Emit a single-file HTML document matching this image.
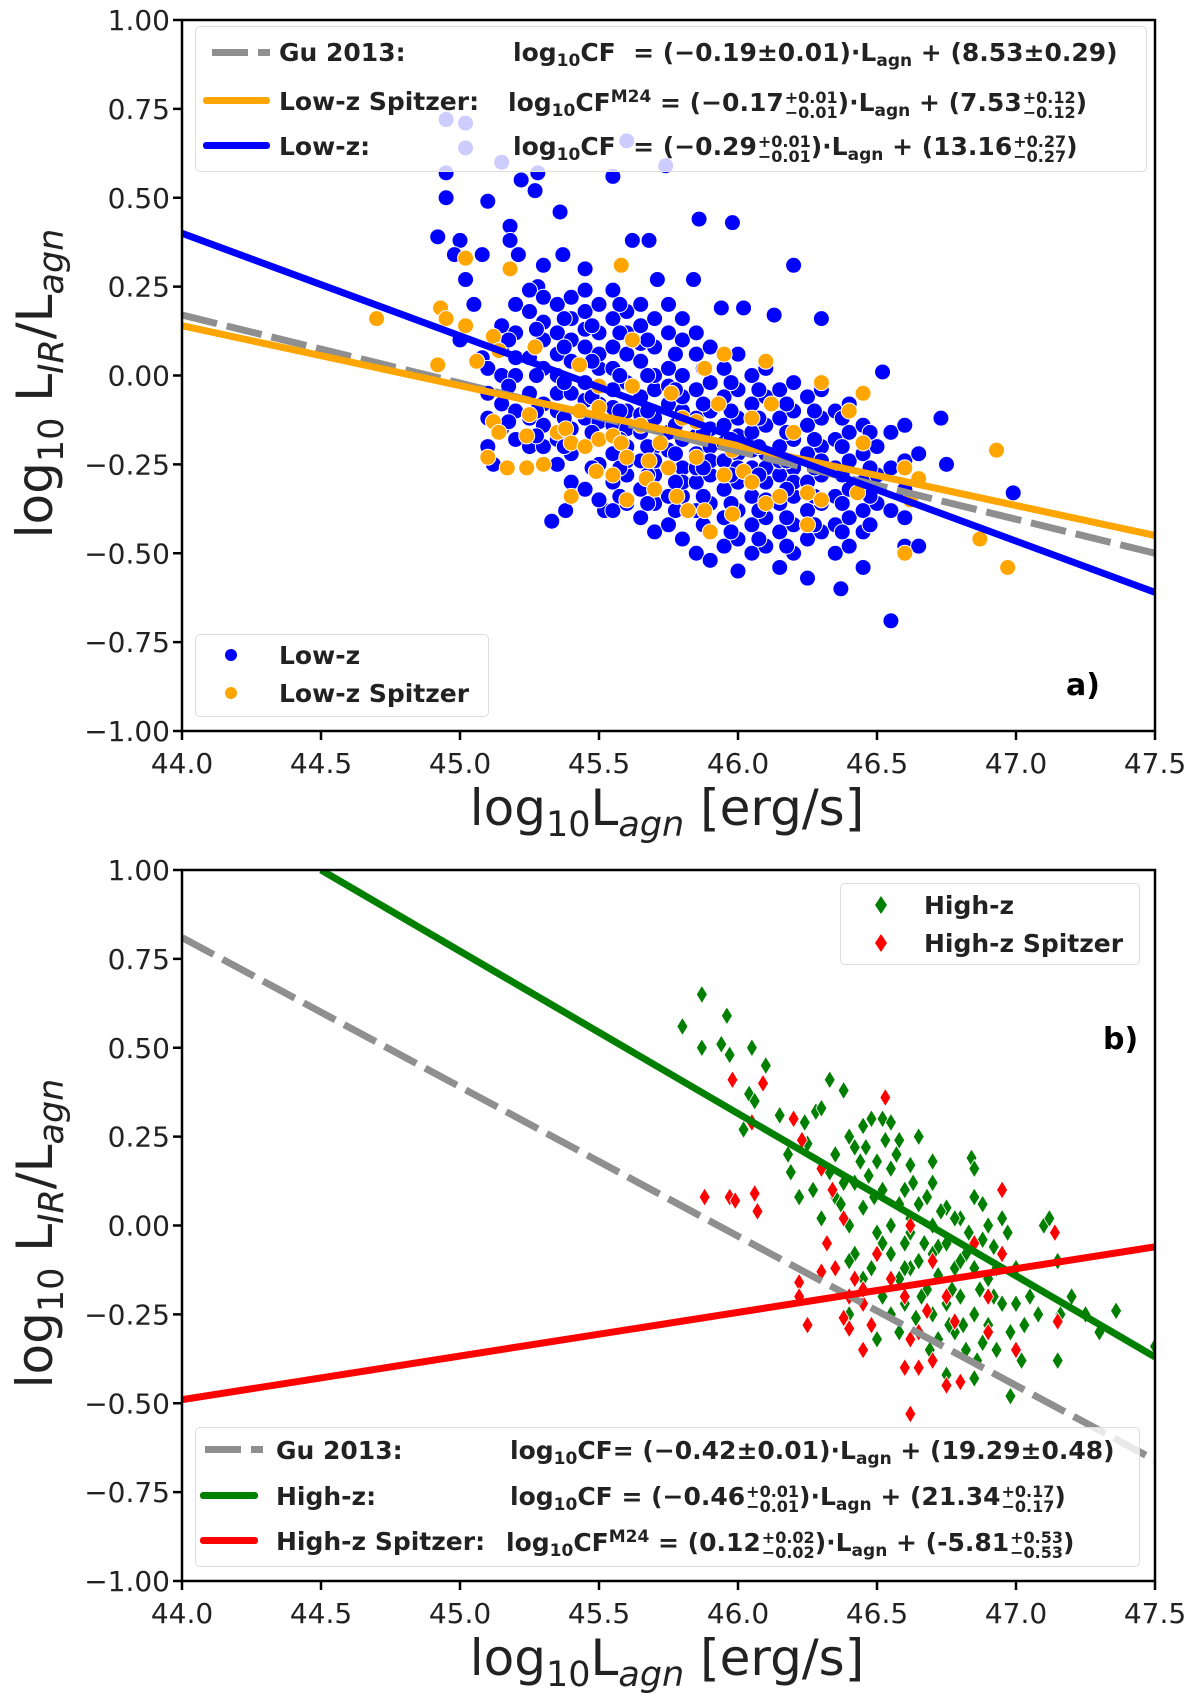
<!DOCTYPE html>
<html><head><meta charset="utf-8">
<style>
body{margin:0;background:#fff;}
#wrap{position:relative;width:1200px;height:1696px;overflow:hidden;font-family:"DejaVu Sans","Liberation Sans",sans-serif;}
svg{position:absolute;left:0;top:0;}
.leg{position:absolute;background:rgba(255,255,255,0.8);border:1.5px solid #ddd;border-radius:5px;box-sizing:border-box;}
.row{position:absolute;font-weight:bold;font-size:25px;color:#222;white-space:nowrap;line-height:1;}
.row sub{font-size:17px;vertical-align:-5px;}
.row sup{font-size:17px;vertical-align:9px;}
.st{display:inline-block;font-size:16px;line-height:15px;vertical-align:-7px;margin-left:1px;}
.st span{display:block;}
.hl{position:absolute;height:7px;}
.tag{position:absolute;font-weight:bold;font-size:30px;color:#000;}
</style></head><body>
<div id="wrap">
<svg id="svg" width="1200" height="1696"></svg>

<div class="leg" style="left:195px;top:26px;width:952px;height:146px;"></div>
<div class="hl" style="left:212px;top:49px;width:58px;background:repeating-linear-gradient(90deg,#8f8f8f 0 36px,transparent 36px 46px,#8f8f8f 46px 58px);"></div>
<div class="row" style="left:279px;top:40px;">Gu 2013:</div>
<div class="row" style="left:513px;top:40px;">log<sub>10</sub>CF&nbsp; = (−0.19±0.01)·L<sub>agn</sub> + (8.53±0.29)</div>
<div class="hl" style="left:203px;top:97px;width:67px;background:#ffa500;border-radius:3px;"></div>
<div class="row" style="left:279px;top:89px;">Low-z Spitzer:</div>
<div class="row" style="left:508px;top:89px;">log<sub>10</sub>CF<sup>M24</sup> = (−0.17<span class="st"><span>+0.01</span><span>−0.01</span></span>)·L<sub>agn</sub> + (7.53<span class="st"><span>+0.12</span><span>−0.12</span></span>)</div>
<div class="hl" style="left:203px;top:142px;width:67px;background:#0000ff;border-radius:3px;"></div>
<div class="row" style="left:279px;top:134px;">Low-z:</div>
<div class="row" style="left:513px;top:134px;">log<sub>10</sub>CF&nbsp; = (−0.29<span class="st"><span>+0.01</span><span>−0.01</span></span>)·L<sub>agn</sub> + (13.16<span class="st"><span>+0.27</span><span>−0.27</span></span>)</div>

<div class="leg" style="left:195px;top:634px;width:294px;height:83px;"></div>
<div style="position:absolute;left:225px;top:649px;width:12px;height:12px;border-radius:50%;background:#0000ff;"></div>
<div class="row" style="left:279px;top:643px;">Low-z</div>
<div style="position:absolute;left:225px;top:687px;width:12px;height:12px;border-radius:50%;background:#ffa500;"></div>
<div class="row" style="left:279px;top:681px;">Low-z Spitzer</div>
<div class="tag" style="left:1066px;top:668px;">a)</div>

<div class="leg" style="left:840px;top:883px;width:300px;height:82px;"></div>
<div style="position:absolute;left:875px;top:896px;width:12px;height:18px;background:#007f00;clip-path:polygon(50% 0,100% 50%,50% 100%,0 50%);"></div>
<div class="row" style="left:924px;top:893px;">High-z</div>
<div style="position:absolute;left:875px;top:934px;width:12px;height:18px;background:#ff0000;clip-path:polygon(50% 0,100% 50%,50% 100%,0 50%);"></div>
<div class="row" style="left:924px;top:931px;">High-z Spitzer</div>
<div class="tag" style="left:1103px;top:1022px;">b)</div>

<div class="leg" style="left:195px;top:1427px;width:945px;height:140px;"></div>
<div class="hl" style="left:205px;top:1446px;width:58px;background:repeating-linear-gradient(90deg,#8f8f8f 0 36px,transparent 36px 46px,#8f8f8f 46px 58px);"></div>
<div class="row" style="left:276px;top:1438px;">Gu 2013:</div>
<div class="row" style="left:510px;top:1438px;">log<sub>10</sub>CF= (−0.42±0.01)·L<sub>agn</sub> + (19.29±0.48)</div>
<div class="hl" style="left:200px;top:1492px;width:58px;background:#007f00;border-radius:3px;"></div>
<div class="row" style="left:276px;top:1484px;">High-z:</div>
<div class="row" style="left:510px;top:1484px;">log<sub>10</sub>CF = (−0.46<span class="st"><span>+0.01</span><span>−0.01</span></span>)·L<sub>agn</sub> + (21.34<span class="st"><span>+0.17</span><span>−0.17</span></span>)</div>
<div class="hl" style="left:200px;top:1537px;width:58px;background:#ff0000;border-radius:3px;"></div>
<div class="row" style="left:276px;top:1529px;">High-z Spitzer:</div>
<div class="row" style="left:506px;top:1529px;">log<sub>10</sub>CF<sup>M24</sup> = (0.12<span class="st"><span>+0.02</span><span>−0.02</span></span>)·L<sub>agn</sub> + (-5.81<span class="st"><span>+0.53</span><span>−0.53</span></span>)</div>
</div>

<script>
const xTicks=[44.0,44.5,45.0,45.5,46.0,46.5,47.0,47.5];
const yTicks=[1.00,0.75,0.50,0.25,0.00,-0.25,-0.50,-0.75,-1.00];
const yTickLabels=["1.00","0.75","0.50","0.25","0.00","−0.25","−0.50","−0.75","−1.00"];
const xTickLabels=["44.0","44.5","45.0","45.5","46.0","46.5","47.0","47.5"];
const lowzOutliers=[[44.95,0.72],[45.02,0.71],[45.02,0.64],[44.95,0.57],[44.95,0.50],[45.1,0.49],[45.15,0.60],[45.22,0.55],[45.27,0.52],[45.28,0.57],[45.55,0.56],[45.6,0.66],[45.74,0.59],[45.36,0.46],[44.92,0.39],[45.0,0.38],[45.18,0.42],[45.18,0.38],[45.08,0.34],[45.21,0.34],[45.3,0.31],[45.37,0.34],[44.98,0.34],[45.02,0.27],[45.62,0.38],[45.68,0.38],[45.86,0.44],[45.98,0.43],[46.2,0.31],[45.71,0.27],[45.84,0.27],[46.3,0.16],[46.13,0.17],[46.02,0.19],[45.94,0.19],[46.52,0.01],[46.73,-0.12],[46.75,-0.25],[46.99,-0.33],[46.55,-0.69],[46.37,-0.6],[46.6,-0.48],[46.45,-0.54],[45.33,-0.41],[45.38,-0.38],[45.52,-0.38],[45.1,-0.2],[45.12,-0.25],[45.05,0.2],[45.0,0.1],[45.08,0.05],[45.28,0.25],[45.45,0.3]];
const lowzBinX=[45.1,45.15,45.2,45.25,45.3,45.35,45.4,45.45,45.5,45.55,45.6,45.65,45.7,45.75,45.8,45.85,45.9,45.95,46.0,46.05,46.1,46.15,46.2,46.25,46.3,46.35,46.4,46.45,46.5,46.55,46.6,46.65];
const lowzBinY=[[-0.05,-0.12,0.02],[0.08,-0.08,-0.15,0.14,0.0],[0.12,0.0,-0.1,-0.18,0.2,0.05],[0.05,-0.05,-0.12,0.18,0.24,-0.2],[0.1,0.02,-0.08,-0.2,0.15,-0.14,0.22],[0.2,0.12,0.0,-0.1,-0.25,0.06,-0.05,-0.18],[0.22,0.1,0.04,-0.05,-0.15,-0.3,0.16,-0.22],[0.18,0.08,-0.02,-0.12,-0.2,-0.32,0.24,0.13,-0.07],[0.2,0.12,0.02,-0.08,-0.18,-0.25,-0.35,0.06,-0.13],[0.16,0.08,-0.04,-0.14,-0.22,-0.3,0.24,-0.38,0.02,-0.09],[0.18,0.06,-0.02,-0.1,-0.2,-0.28,-0.36,0.12,-0.15,-0.24],[0.14,0.04,-0.06,-0.16,-0.24,-0.32,-0.4,0.2,0.09,-0.11],[0.16,0.08,-0.04,-0.12,-0.2,-0.28,-0.36,-0.44,0.0,-0.24],[0.12,0.02,-0.08,-0.16,-0.26,-0.34,-0.42,0.2,-0.21,-0.03],[0.1,0.0,-0.1,-0.18,-0.26,-0.34,-0.46,0.16,-0.06,-0.3],[0.06,-0.04,-0.12,-0.22,-0.3,-0.38,-0.5,0.12,-0.17,-0.26],[0.08,-0.02,-0.1,-0.2,-0.28,-0.36,-0.44,-0.52,-0.15,-0.24],[0.02,-0.06,-0.14,-0.24,-0.32,-0.4,-0.48,-0.19,-0.28],[0.06,-0.04,-0.12,-0.22,-0.3,-0.38,-0.46,-0.55,-0.17,-0.26],[0.0,-0.08,-0.16,-0.26,-0.34,-0.42,-0.5,-0.21,-0.3],[0.02,-0.06,-0.14,-0.22,-0.3,-0.4,-0.48,-0.26,-0.35],[-0.04,-0.12,-0.2,-0.28,-0.36,-0.44,-0.54,-0.24],[-0.02,-0.1,-0.18,-0.26,-0.34,-0.42,-0.5,-0.3],[-0.06,-0.14,-0.22,-0.3,-0.38,-0.46,-0.57],[-0.04,-0.12,-0.2,-0.28,-0.36,-0.44,-0.24],[-0.1,-0.18,-0.26,-0.34,-0.42,-0.5],[-0.08,-0.16,-0.24,-0.32,-0.4,-0.48],[-0.14,-0.22,-0.3,-0.38,-0.44],[-0.2,-0.28,-0.36],[-0.16,-0.26,-0.38],[-0.14,-0.24,-0.32,-0.4],[-0.22,-0.48]];
const lowzBin2X=[45.175,45.275,45.375,45.475,45.575,45.675,45.775,45.875,45.975,46.075,46.175,46.275,46.375,46.475];
const lowzBin2Y=[[0.1,-0.03,-0.13],[0.13,0.0,-0.1,-0.17],[0.16,0.08,-0.02,-0.12,-0.2],[0.14,0.04,-0.06,-0.16,-0.26],[0.2,0.12,0.0,-0.1,-0.18,-0.26,-0.34],[0.1,0.0,-0.1,-0.2,-0.28,-0.36],[0.06,-0.04,-0.14,-0.22,-0.3,-0.38],[0.02,-0.08,-0.16,-0.26,-0.34,-0.42],[-0.02,-0.1,-0.18,-0.28,-0.36,-0.44],[-0.04,-0.12,-0.2,-0.28,-0.38,-0.46],[-0.08,-0.16,-0.24,-0.32,-0.4,-0.48],[-0.1,-0.18,-0.26,-0.34,-0.42],[-0.12,-0.2,-0.28,-0.36,-0.44],[-0.16,-0.26,-0.34,-0.42]];
const lowzSpitzer=[[44.7,0.16],[44.93,0.19],[44.95,0.16],[44.92,0.03],[45.02,0.14],[45.06,0.04],[45.02,0.33],[45.18,0.3],[45.12,0.11],[45.14,0.07],[45.12,-0.13],[45.14,-0.16],[45.1,-0.23],[45.17,-0.26],[45.24,-0.17],[45.24,-0.26],[45.3,-0.25],[45.25,-0.11],[45.27,0.08],[45.35,-0.16],[45.38,-0.15],[45.4,-0.19],[45.43,0.03],[45.43,-0.1],[45.45,-0.2],[45.4,-0.34],[45.49,-0.27],[45.5,-0.18],[45.5,-0.09],[45.5,-0.03],[45.55,-0.17],[45.55,-0.28],[45.58,-0.19],[45.6,-0.23],[45.6,-0.35],[45.58,0.31],[45.62,0.1],[45.62,-0.03],[45.65,-0.14],[45.67,-0.29],[45.68,-0.24],[45.7,-0.32],[45.72,-0.19],[45.75,-0.26],[45.76,-0.05],[45.78,-0.34],[45.8,-0.12],[45.82,-0.38],[45.85,-0.13],[45.85,-0.23],[45.9,-0.44],[45.88,-0.38],[45.88,0.02],[45.93,-0.08],[45.95,-0.28],[45.95,0.06],[45.98,-0.21],[45.98,-0.39],[46.02,-0.27],[46.05,-0.12],[46.05,-0.3],[46.1,-0.36],[46.1,0.04],[46.12,-0.08],[46.15,-0.34],[46.2,-0.16],[46.25,-0.42],[46.25,-0.33],[46.3,-0.02],[46.3,-0.35],[46.4,-0.1],[46.43,-0.33],[46.45,-0.05],[46.45,-0.19],[46.6,-0.26],[46.62,-0.35],[46.6,-0.5],[46.65,-0.29],[46.87,-0.46],[46.93,-0.21],[46.97,-0.54]];
const highz=[[45.8,0.56],[45.87,0.65],[45.87,0.5],[45.94,0.51],[45.97,0.48],[45.96,0.59],[46.05,0.5],[46.1,0.45],[46.04,0.37],[46.06,0.35],[46.02,0.27],[46.15,0.31],[46.18,0.2],[46.22,0.08],[46.19,0.15],[46.25,0.23],[46.24,0.29],[46.28,0.32],[46.3,0.33],[46.33,0.41],[46.35,0.2],[46.38,0.38],[46.4,0.25],[46.42,0.22],[46.45,0.28],[46.48,0.3],[46.52,0.3],[46.55,0.29],[46.58,0.24],[46.62,0.17],[46.65,0.25],[46.7,0.18],[46.84,0.19],[46.85,0.16],[46.27,0.1],[46.3,0.02],[46.32,-0.05],[46.35,0.08],[46.38,0.12],[46.4,0.0],[46.42,-0.08],[46.45,0.05],[46.47,0.14],[46.5,-0.02],[46.52,0.1],[46.55,0.16],[46.58,0.06],[46.6,-0.05],[46.62,0.02],[46.65,-0.1],[46.68,0.08],[46.7,0.0],[46.72,-0.06],[46.75,0.05],[46.78,-0.12],[46.8,0.02],[46.82,-0.08],[46.85,0.08],[46.88,-0.04],[46.9,-0.15],[46.95,0.02],[46.92,-0.2],[46.48,-0.12],[46.52,-0.2],[46.55,-0.08],[46.58,-0.15],[46.6,-0.22],[46.62,-0.12],[46.65,-0.3],[46.68,-0.18],[46.7,-0.25],[46.72,-0.14],[46.75,-0.22],[46.78,-0.3],[46.8,-0.2],[46.82,-0.35],[46.85,-0.25],[46.88,-0.33],[46.9,-0.28],[46.95,-0.22],[46.98,-0.3],[47.0,-0.12],[47.05,-0.2],[47.1,0.0],[47.12,0.02],[47.08,-0.25],[47.15,-0.1],[47.16,-0.25],[47.2,-0.2],[47.15,-0.38],[47.25,-0.25],[47.3,-0.3],[47.36,-0.24],[47.5,-0.34],[46.85,-0.43],[46.98,-0.48],[46.75,-0.42],[47.02,-0.38],[46.4,-0.25],[46.45,-0.15],[46.5,0.18],[46.55,0.0],[46.62,-0.02],[46.7,0.12],[46.75,-0.05],[46.8,-0.1],[46.9,0.0],[46.95,-0.08],[46.58,-0.3],[46.66,-0.2],[46.72,-0.32],[46.42,0.12],[46.33,0.15],[46.37,0.06],[46.46,0.22],[46.53,0.24],[46.6,0.1],[46.7,-0.08],[46.85,-0.12],[46.92,-0.06],[47.0,-0.22],[46.78,0.02],[46.88,0.06],[46.65,0.06],[46.55,-0.25],[46.4,-0.1],[46.5,-0.32],[46.44,0.18],[46.49,0.08],[46.57,0.2],[46.63,0.12],[46.67,-0.05],[46.73,0.04],[46.77,-0.18],[46.83,-0.02],[46.87,-0.18],[46.93,-0.12],[46.97,-0.02],[47.03,-0.28],[46.52,-0.05],[46.6,-0.12],[46.64,-0.26],[46.69,-0.35],[46.76,-0.28],[46.81,-0.28],[46.86,-0.38],[46.93,-0.35]];
const highzSpitzer=[[45.88,0.08],[45.98,0.41],[46.09,0.4],[46.05,0.29],[45.97,0.08],[45.99,0.07],[46.06,0.09],[46.07,0.04],[46.2,0.3],[46.23,0.24],[46.3,0.16],[46.34,0.1],[46.32,-0.05],[46.35,-0.12],[46.38,0.02],[46.42,-0.15],[46.4,-0.2],[46.3,-0.13],[46.22,-0.16],[46.22,-0.2],[46.25,-0.28],[46.38,-0.26],[46.4,-0.29],[46.45,-0.22],[46.48,-0.28],[46.45,-0.35],[46.5,-0.08],[46.53,0.36],[46.55,-0.15],[46.6,-0.2],[46.62,-0.32],[46.65,-0.3],[46.68,-0.24],[46.62,0.0],[46.6,-0.4],[46.65,-0.4],[46.7,-0.38],[46.7,-0.1],[46.75,-0.2],[46.75,-0.45],[46.8,-0.44],[46.78,-0.27],[46.62,-0.53],[46.85,-0.05],[46.9,-0.2],[46.9,-0.3],[46.95,-0.08],[46.95,0.1],[47.0,-0.35],[47.14,-0.02],[47.15,-0.27],[46.45,-0.18]];
const fitLowz=[44.0,0.40,47.5,-0.61];
const fitLowzSpitzer=[44.0,0.14,47.5,-0.45];
const fitGuA=[44.0,0.17,47.5,-0.50];
const fitHighz=[44.5,1.0,47.5,-0.37];
const fitHighzSpitzer=[44.0,-0.49,47.5,-0.06];
const fitGuB=[44.0,0.81,47.5,-0.66];

const NS="http://www.w3.org/2000/svg";
const svg=document.getElementById('svg');
const L=182,R=1155,H=711;
const FONT='DejaVu Sans, Liberation Sans, sans-serif';
function xs(v){return L+(v-44)/(3.5)*(R-L);}
function mk(tag,attrs,parent){const e=document.createElementNS(NS,tag);for(const k in attrs)e.setAttribute(k,attrs[k]);(parent||svg).appendChild(e);return e;}

function panel(top,id){
  const ys=v=>top+(1-v)/2*H;
  const g=mk('g',{});
  
  
  const cp=mk('clipPath',{id:'clip'+id},g);
  mk('rect',{x:L,y:top,width:R-L,height:H},cp);
  const plot=mk('g',{'clip-path':'url(#clip'+id+')'},g);
  
  
  return {ys,g,plot,top};
}
function axes(p,id){
  const {ys,g,top}=p;
  const fr=mk('rect',{x:L,y:top,width:R-L,height:H,fill:'none',stroke:'#000','stroke-width':2.5},g);
  
  
  xTicks.forEach((t,i)=>{
    mk('line',{x1:xs(t),x2:xs(t),y1:top+H,y2:top+H+9,stroke:'#000','stroke-width':2.5},g);
    const tx=mk('text',{x:xs(t),y:top+H+42,'text-anchor':'middle','font-size':28,fill:'#222','font-family':FONT},g);
    tx.textContent=xTickLabels[i];
    
    
  });
  yTicks.forEach((t,i)=>{
    mk('line',{x1:L-9,x2:L,y1:ys(t),y2:ys(t),stroke:'#000','stroke-width':2.5},g);
    const tx=mk('text',{x:L-12,y:ys(t)+10,'text-anchor':'end','font-size':28,fill:'#222','font-family':FONT},g);
    tx.textContent=yTickLabels[i];
    
    
  });
  const xl=mk('text',{x:667,y:top+H+94,'text-anchor':'middle','font-size':50,fill:'#222','font-family':FONT},g);
  xl.innerHTML='log<tspan font-size="35" dy="11">10</tspan><tspan dy="-11">L</tspan><tspan font-size="35" dy="11" font-style="italic">agn</tspan><tspan dy="-11"> [erg/s]</tspan>';
  
  
  const yl=mk('text',{x:0,y:0,'text-anchor':'middle','font-size':50,fill:'#222','font-family':FONT,transform:'translate(52,'+(top+H/2+8)+') rotate(-90)'},g);
  yl.innerHTML='log<tspan font-size="35" dy="11">10</tspan><tspan dy="-11"> L</tspan><tspan font-size="35" dy="11" font-style="italic">IR</tspan><tspan dy="-11">/L</tspan><tspan font-size="35" dy="11" font-style="italic">agn</tspan>';
  
  
}
function line(p,f,color,dash,name){
  const l=mk('line',{x1:xs(f[0]),y1:p.ys(f[1]),x2:xs(f[2]),y2:p.ys(f[3]),stroke:color,'stroke-width':7},p.plot);
  if(dash)l.setAttribute('stroke-dasharray',dash);
  
  
}
function dot(p,x,y,color,name){
  const c=mk('circle',{cx:xs(x),cy:p.ys(y),r:8,fill:color,stroke:'#fff','stroke-width':1},p.plot);
  
  
}
function diamond(p,x,y,color,name){
  const cx=xs(x),cy=p.ys(y);
  const d=mk('polygon',{points:`${cx},${cy-9} ${cx+5.5},${cy} ${cx},${cy+9} ${cx-5.5},${cy}`,fill:color,stroke:'#fff','stroke-width':0.8},p.plot);
  
  
}

const pa=panel(20,'a');
lowzOutliers.forEach(d=>dot(pa,d[0],d[1],'#0000ff','lowz-point'));
lowzBinX.forEach((x,i)=>lowzBinY[i].forEach(y=>dot(pa,x,y,'#0000ff','lowz-point')));
lowzBin2X.forEach((x,i)=>lowzBin2Y[i].forEach(y=>dot(pa,x,y,'#0000ff','lowz-point')));
lowzSpitzer.forEach(d=>dot(pa,d[0],d[1],'#ffa500','lowz-spitzer-point'));
line(pa,fitGuA,'#8f8f8f','36 10','gu2013-fit-line-a');
line(pa,fitLowzSpitzer,'#ffa500',null,'lowz-spitzer-fit-line');
line(pa,fitLowz,'#0000ff',null,'lowz-fit-line');
axes(pa,'a');

const pb=panel(870,'b');
highz.forEach(d=>diamond(pb,d[0],d[1],'#007f00','highz-point'));
highzSpitzer.forEach(d=>diamond(pb,d[0],d[1],'#ff0000','highz-spitzer-point'));
line(pb,fitGuB,'#8f8f8f','36 10','gu2013-fit-line-b');
line(pb,fitHighz,'#007f00',null,'highz-fit-line');
line(pb,fitHighzSpitzer,'#ff0000',null,'highz-spitzer-fit-line');
axes(pb,'b');
</script>
</body></html>
